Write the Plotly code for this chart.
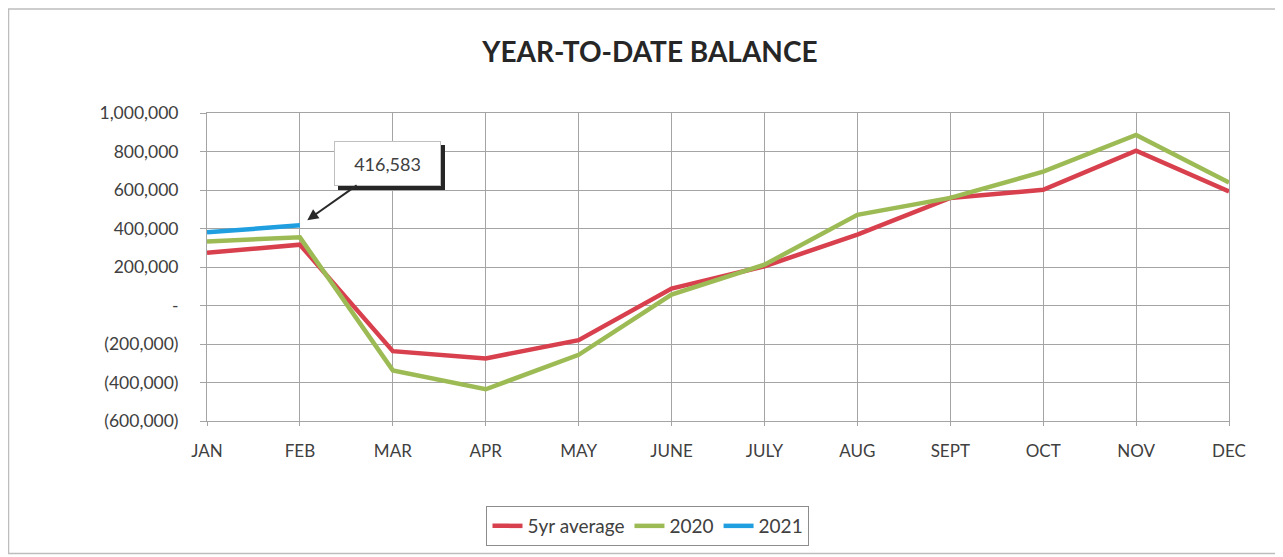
import plotly.graph_objects as go

months = ["JAN", "FEB", "MAR", "APR", "MAY", "JUNE", "JULY", "AUG", "SEPT", "OCT", "NOV", "DEC"]
avg5 = [274000, 316000, -237000, -275000, -180000, 88000, 204000, 368000, 559000, 601000, 804000, 592000]
y2020 = [333000, 354000, -337000, -435000, -256000, 57000, 212000, 471000, 559000, 695000, 886000, 639000]
y2021 = [380000, 416583]

ytick_vals = [1000000, 800000, 600000, 400000, 200000, 0, -200000, -400000, -600000]
ytick_text = ["1,000,000", "800,000", "600,000", "400,000", "200,000", "-", "(200,000)", "(400,000)", "(600,000)"]

FONT = "Lato"
TXT = "#404040"
GRID = "#a4a4a4"

fig = go.Figure()
fig.add_trace(go.Scatter(x=months, y=avg5, mode="lines", name="5yr average",
                         line=dict(color="#d8404e", width=4.5)))
fig.add_trace(go.Scatter(x=months, y=y2020, mode="lines", name="2020",
                         line=dict(color="#9dbb55", width=4.5)))
fig.add_trace(go.Scatter(x=months[:len(y2021)], y=y2021, mode="lines", name="2021",
                         line=dict(color="#1f9ee0", width=4.5)))

label = f"{y2021[1]:,}"
# shadow of the callout box (blank box, offset)
fig.add_annotation(x=months[1], y=y2021[1], text=" ", showarrow=False,
                   xshift=88 + 4, yshift=62 - 4, width=103, height=41,
                   bgcolor="#262626", bordercolor="#262626", borderwidth=1,
                   font=dict(family=FONT, size=18, color="#262626"))
fig.add_annotation(x=months[1], y=y2021[1], text=label, showarrow=True,
                   arrowhead=2, arrowsize=1.1, arrowwidth=2, arrowcolor="#2a2a2a",
                   ax=88, ay=-62, standoff=9, width=103, height=41,
                   bgcolor="white", bordercolor="#c0c0c0", borderwidth=1,
                   font=dict(family=FONT, size=18, color=TXT))

fig.add_shape(type="rect", xref="paper", yref="paper", x0=-0.1942, x1=1.0499, y0=-0.4304, y1=1.338,
              line=dict(color="#bdbdbd", width=1.5), layer="below")

fig.update_layout(
    width=1275, height=549,
    paper_bgcolor="white", plot_bgcolor="white",
    margin=dict(l=199, r=54, t=105, b=135),
    title=dict(text="<b>YEAR-TO-DATE BALANCE</b>", x=0.5035, xanchor="center",
               y=1 - 44/549, yanchor="middle",
               font=dict(family=FONT, size=28, color="#262626")),
    font=dict(family=FONT, color=TXT),
    showlegend=True,
    legend=dict(orientation="h", x=0.4315, xanchor="center", y=-0.3366, yanchor="middle",
                bordercolor="#8c8c8c", borderwidth=1, bgcolor="white",
                font=dict(family=FONT, size=19, color=TXT)),
    xaxis=dict(type="category", range=[0, 11], showgrid=True, gridcolor=GRID, gridwidth=1,
               showline=True, linecolor=GRID, mirror=True, ticks="outside", ticklen=4,
               tickcolor=GRID, ticklabelstandoff=11,
               tickfont=dict(family=FONT, size=17, color=TXT), zeroline=False),
    yaxis=dict(range=[-600000, 1000000], tickvals=ytick_vals, ticktext=ytick_text,
               showgrid=True, gridcolor=GRID, gridwidth=1,
               showline=True, linecolor=GRID, mirror=True, ticks="outside", ticklen=6,
               tickcolor=GRID, zeroline=False, ticklabelstandoff=18,
               tickfont=dict(family=FONT, size=17.5, color=TXT)),
)

fig.write_html("out.html")
